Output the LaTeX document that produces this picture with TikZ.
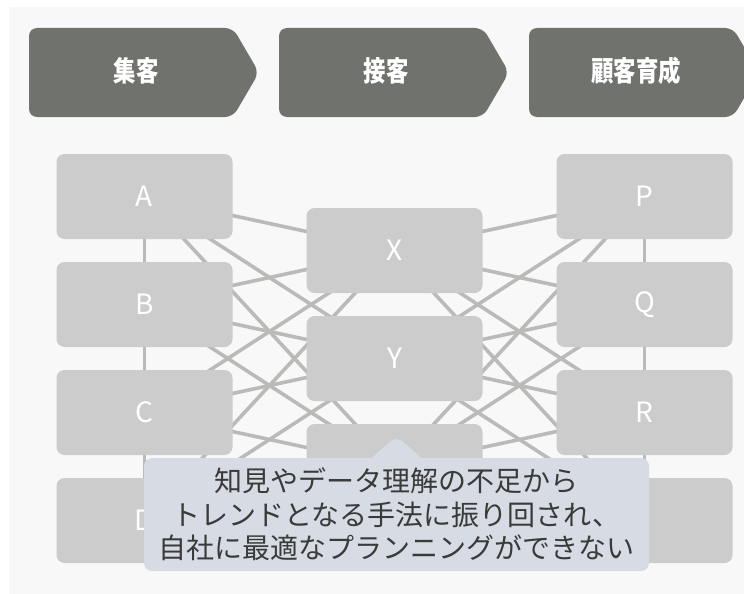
\documentclass[tikz,border=0pt]{standalone}
\usepackage{fontspec}
\usepackage{graphicx}
\usetikzlibrary{shapes.callouts,backgrounds}
\newfontfamily\jp{Noto Sans CJK JP}

\definecolor{panelbg}{HTML}{F8F8F8}
\definecolor{chevfill}{HTML}{70726E}
\definecolor{boxfill}{HTML}{CBCCCB}
\definecolor{linkcol}{HTML}{BABBB9}
\definecolor{notefill}{HTML}{D6DBE4}
\definecolor{notetext}{HTML}{3A3A3A}

\tikzset{
  stage/.style={fill=chevfill, rounded corners=8pt},
  stagetext/.style={text=white, font=\jp\bfseries\fontsize{28}{30}\selectfont},
  item/.style={fill=boxfill, rounded corners=8pt, minimum width=176pt,
    minimum height=85pt, inner sep=0pt, text=white,
    font=\jp\fontsize{28}{30}\selectfont},
  link/.style={draw=linkcol, line width=3.6pt},
  note/.style={rectangle callout, fill=notefill, rounded corners=8pt,
    minimum width=505pt, minimum height=113pt, inner sep=0pt,
    callout pointer width=50pt, align=center, text=notetext,
    font=\jp\fontsize{28}{33.5}\selectfont}
}

\begin{document}
\begin{tikzpicture}[x=1pt, y=-1pt]
  \useasboundingbox (0,0) rectangle (744,594);
  \begin{scope}[on background layer]
    \fill[panelbg] (9,7) rectangle (744,594);
  \end{scope}

  % stages
  \foreach \x/\t [count=\i] in {29/集客, 279/接客, 529/顧客育成} {
    \fill[stage] (\x,28) -- (\x+204,28) -- (\x+230,72.5) -- (\x+204,117) -- (\x,117) -- cycle;
    \node[stagetext] (h\i) at (\x+107,71) {\scalebox{0.8}[1]{\t}};
  }

  % boxes
  \node[item] (a) at (144.5,196.5) {A};
  \node[item] (b) at (144.5,304.5) {B};
  \node[item] (c) at (144.5,412.5) {C};
  \node[item] (d) at (144.5,520.5) {D};
  \node[item] (x) at (394.5,250.5) {X};
  \node[item] (y) at (394.5,358.5) {Y};
  \node[item] (z) at (394.5,466.5) {};
  \node[item] (p) at (644.5,196.5) {P};
  \node[item] (q) at (644.5,304.5) {Q};
  \node[item] (r) at (644.5,412.5) {R};
  \node[item] (s) at (644.5,520.5) {};

  \begin{scope}[on background layer]
    \draw[link, line width=2.2pt] (a.center) -- (d.center);
    \draw[link, line width=2.2pt] (p.center) -- (s.center);
    \foreach \m in {x,y,z} {
      \foreach \l in {a,b,c,d}
        \draw[link] (\l.center) -- (\m.center);
      \foreach \r in {p,q,r,s}
        \draw[link] (\m.center) -- (\r.center);
    }
  \end{scope}

  % comment bubble
  \coordinate (tip) at (396.5,436);
  \node[note, callout absolute pointer={(tip)}] (msg) at (396.5,514.5)
    {知見やデータ理解の不足から\\トレンドとなる手法に振り回され、\\自社に最適なプランニングができない};
\end{tikzpicture}
\end{document}
